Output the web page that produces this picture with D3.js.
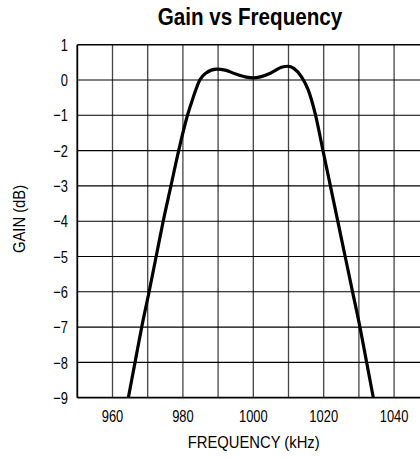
<!DOCTYPE html>
<html><head><meta charset="utf-8">
<script src="https://cdn.jsdelivr.net/npm/d3@7"></script>
<style>
body{margin:0;background:#fff;}
svg{display:block;}
text{font-family:"Liberation Sans","Helvetica",Arial,sans-serif;fill:#000;}
</style></head><body>
<svg id="c" width="420" height="458"></svg>
<script>
const freq = [964.5,966.4,968.3,970.4,972.4,974.4,976.6,978.8,981.3,982.9,984.8,986.6,989.5,992,995,998,1000,1002,1005,1008,1009.8,1011.5,1013.7,1015.6,1017.7,1019.8,1021.9,1024.0,1026.1,1028.2,1030.3,1032.2,1034.1];
const gain = [-9,-8,-7,-6,-5,-4,-3,-2,-1,-0.5,0,0.2,0.31,0.28,0.17,0.08,0.06,0.09,0.2,0.36,0.39,0.33,0.09,-0.28,-1,-2,-3,-4,-5,-6,-7,-8,-9];
const xTicks = [960,980,1000,1020,1040];
const xGrid = [960,970,980,990,1000,1010,1020,1030,1040];
const yTicks = [1,0,-1,-2,-3,-4,-5,-6,-7,-8,-9];
const title = "Gain vs Frequency";
const xTitle = "FREQUENCY (kHz)";
const yTitle = "GAIN (dB)";

const svg = d3.select("#c");
const L=77.3, T=44.7, R=429.3, B=397.7;
const x = d3.scaleLinear().domain([950,1050]).range([L,R]);
const y = d3.scaleLinear().domain([-9,1]).range([B,T]);

const g = svg.append("g");
g.selectAll(".vg").data(xGrid).enter().append("line")
  .attr("x1",d=>x(d)).attr("x2",d=>x(d)).attr("y1",T).attr("y2",B)
  .attr("stroke","#444").attr("stroke-width",1.3);
g.selectAll(".hg").data(yTicks.filter(d=>d>-9 && d<1)).enter().append("line")
  .attr("x1",L).attr("x2",R).attr("y1",d=>y(d)).attr("y2",d=>y(d))
  .attr("stroke","#000").attr("stroke-width",1.1);
g.append("line").attr("x1",L).attr("x2",R).attr("y1",T).attr("y2",T).attr("stroke","#000").attr("stroke-width",1.5);
g.append("line").attr("x1",L).attr("x2",R).attr("y1",B).attr("y2",B).attr("stroke","#000").attr("stroke-width",1.8);
g.append("line").attr("x1",L).attr("x2",L).attr("y1",T).attr("y2",B).attr("stroke","#000").attr("stroke-width",1.8);

const line = d3.line().x((d,i)=>x(freq[i])).y(d=>y(d)).curve(d3.curveMonotoneX);
svg.append("path").attr("d",line(gain)).attr("fill","none").attr("stroke","#000").attr("stroke-width",3.2).attr("stroke-linejoin","round");

function cond(sel, sx){ return sel; }
svg.selectAll(".yt").data(yTicks).enter().append("text")
  .attr("transform",d=>`translate(68,${y(d)}) scale(0.76,1)`).attr("dy","0.36em").attr("text-anchor","end")
  .attr("font-size",17).text(d=>d<0?"\u2212"+Math.abs(d):String(d));
svg.selectAll(".xt").data(xTicks).enter().append("text")
  .attr("transform",d=>`translate(${x(d)},421.5) scale(0.76,1)`).attr("text-anchor","middle")
  .attr("font-size",17).text(d=>d);
svg.append("text").attr("transform","translate(253.7,448) scale(0.87,1)").attr("text-anchor","middle").attr("font-size",17).text(xTitle);
svg.append("text").attr("transform","translate(25,219) rotate(-90) scale(0.87,1)").attr("text-anchor","middle").attr("font-size",17).text(yTitle);
svg.append("text").attr("transform","translate(250,25) scale(0.86,1)").attr("text-anchor","middle").attr("font-size",24).attr("font-weight","bold").text(title);
</script></body></html>
